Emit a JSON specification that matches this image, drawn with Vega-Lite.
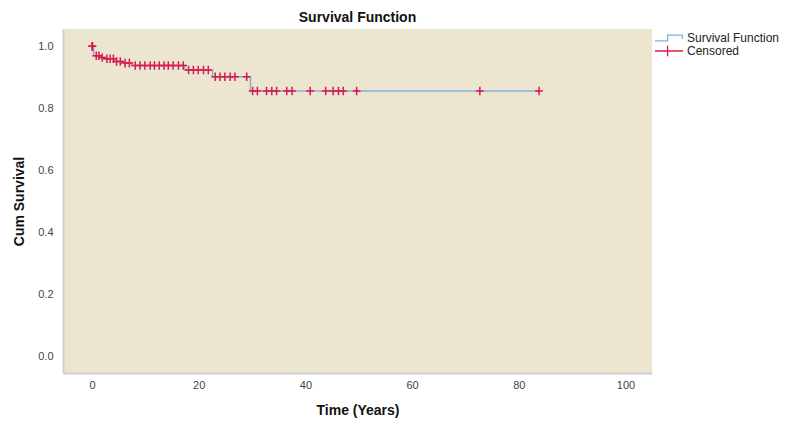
{
  "$schema": "https://vega.github.io/schema/vega-lite/v6.json",
  "width": 589,
  "height": 344,
  "autosize": "none",
  "padding": {"left": 63, "top": 29, "right": 145, "bottom": 64},
  "background": "white",
  "title": {"text": "Survival Function", "fontSize": 14, "fontWeight": "bold", "font": "Liberation Sans", "color": "#111", "anchor": "middle", "offset": -2},
  "config": {
    "view": {"fill": "#ECE5D0", "stroke": null},
    "axis": {"grid": false, "ticks": false, "labelFont": "Liberation Sans", "labelFontSize": 11, "labelColor": "#444", "titleFont": "Liberation Sans", "titleFontSize": 14, "titleFontWeight": "bold", "titleColor": "#111", "domainColor": "#D0D0D0", "domainWidth": 2}
  },
  "datasets": {
    "surv": [
      {"t": 0, "s": 1.0, "series": "Survival Function"},
      {"t": 0.3, "s": 0.970, "series": "Survival Function"},
      {"t": 1.6, "s": 0.964, "series": "Survival Function"},
      {"t": 2.3, "s": 0.960, "series": "Survival Function"},
      {"t": 4.2, "s": 0.951, "series": "Survival Function"},
      {"t": 5.8, "s": 0.946, "series": "Survival Function"},
      {"t": 7.5, "s": 0.938, "series": "Survival Function"},
      {"t": 17.4, "s": 0.924, "series": "Survival Function"},
      {"t": 22.6, "s": 0.902, "series": "Survival Function"},
      {"t": 29.7, "s": 0.856, "series": "Survival Function"},
      {"t": 84, "s": 0.856, "series": "Survival Function"}
    ],
    "cens": [
      {"t": 0, "s": 1.0, "c": "Censored"},
      {"t": 0.1, "s": 1.0, "c": "Censored"},
      {"t": 0.8, "s": 0.970, "c": "Censored"},
      {"t": 1.3, "s": 0.970, "c": "Censored"},
      {"t": 1.9, "s": 0.964, "c": "Censored"},
      {"t": 2.8, "s": 0.960, "c": "Censored"},
      {"t": 3.4, "s": 0.960, "c": "Censored"},
      {"t": 4.0, "s": 0.960, "c": "Censored"},
      {"t": 4.6, "s": 0.951, "c": "Censored"},
      {"t": 5.3, "s": 0.951, "c": "Censored"},
      {"t": 6.2, "s": 0.946, "c": "Censored"},
      {"t": 7.0, "s": 0.946, "c": "Censored"},
      {"t": 8.1, "s": 0.938, "c": "Censored"},
      {"t": 9.0, "s": 0.938, "c": "Censored"},
      {"t": 9.9, "s": 0.938, "c": "Censored"},
      {"t": 10.9, "s": 0.938, "c": "Censored"},
      {"t": 11.7, "s": 0.938, "c": "Censored"},
      {"t": 12.6, "s": 0.938, "c": "Censored"},
      {"t": 13.5, "s": 0.938, "c": "Censored"},
      {"t": 14.3, "s": 0.938, "c": "Censored"},
      {"t": 15.2, "s": 0.938, "c": "Censored"},
      {"t": 16.2, "s": 0.938, "c": "Censored"},
      {"t": 17.1, "s": 0.938, "c": "Censored"},
      {"t": 18.1, "s": 0.924, "c": "Censored"},
      {"t": 19.0, "s": 0.924, "c": "Censored"},
      {"t": 19.9, "s": 0.924, "c": "Censored"},
      {"t": 20.9, "s": 0.924, "c": "Censored"},
      {"t": 21.8, "s": 0.924, "c": "Censored"},
      {"t": 23.1, "s": 0.902, "c": "Censored"},
      {"t": 24.0, "s": 0.902, "c": "Censored"},
      {"t": 24.9, "s": 0.902, "c": "Censored"},
      {"t": 25.9, "s": 0.902, "c": "Censored"},
      {"t": 26.8, "s": 0.902, "c": "Censored"},
      {"t": 29.0, "s": 0.902, "c": "Censored"},
      {"t": 30.1, "s": 0.856, "c": "Censored"},
      {"t": 31.0, "s": 0.856, "c": "Censored"},
      {"t": 32.7, "s": 0.856, "c": "Censored"},
      {"t": 33.7, "s": 0.856, "c": "Censored"},
      {"t": 34.6, "s": 0.856, "c": "Censored"},
      {"t": 36.5, "s": 0.856, "c": "Censored"},
      {"t": 37.5, "s": 0.856, "c": "Censored"},
      {"t": 40.9, "s": 0.856, "c": "Censored"},
      {"t": 43.8, "s": 0.856, "c": "Censored"},
      {"t": 45.2, "s": 0.856, "c": "Censored"},
      {"t": 46.2, "s": 0.856, "c": "Censored"},
      {"t": 47.1, "s": 0.856, "c": "Censored"},
      {"t": 49.6, "s": 0.856, "c": "Censored"},
      {"t": 72.7, "s": 0.856, "c": "Censored"},
      {"t": 83.8, "s": 0.856, "c": "Censored"}
    ]
  },
  "encoding": {
    "x": {"field": "t", "type": "quantitative", "title": "Time (Years)",
      "scale": {"domain": [-5.44, 104.97], "nice": false, "zero": false},
      "axis": {"values": [0, 20, 40, 60, 80, 100], "labelPadding": 6, "titlePadding": 13}},
    "y": {"field": "s", "type": "quantitative", "title": "Cum Survival",
      "scale": {"domain": [-0.053, 1.056], "nice": false, "zero": false},
      "axis": {"values": [0, 0.2, 0.4, 0.6, 0.8, 1.0], "format": ".1f", "labelPadding": 10, "titlePadding": 11}}
  },
  "layer": [
    {
      "data": {"name": "surv"},
      "mark": {"type": "line", "interpolate": "step-after", "strokeWidth": 1.5},
      "encoding": {
        "color": {"field": "series", "type": "nominal",
          "scale": {"domain": ["Survival Function"], "range": ["#86AFD9"]},
          "legend": {"title": null, "orient": "none", "legendX": 591, "legendY": -6, "symbolType": "M-1,0.2H-0.1V-0.2H0.95V0.05", "symbolSize": 784, "symbolStrokeWidth": 1.3, "labelFont": "Liberation Sans", "labelFontSize": 12, "labelColor": "#222", "labelOffset": 3, "padding": 0}}
      }
    },
    {
      "data": {"name": "cens"},
      "mark": {"type": "point", "shape": "M-1,0H1M0,-1.1V1.1", "filled": false, "size": 60, "strokeWidth": 1.5, "opacity": 1},
      "encoding": {
        "stroke": {"field": "c", "type": "nominal",
          "scale": {"domain": ["Censored"], "range": ["#D81B4C"]},
          "legend": {"title": null, "orient": "none", "legendX": 591, "legendY": 7, "symbolType": "M-1,0H1M-0.1,-0.38V0.38", "symbolSize": 784, "symbolStrokeWidth": 1.3, "labelFont": "Liberation Sans", "labelFontSize": 12, "labelColor": "#222", "labelOffset": 3, "padding": 0}}
      }
    }
  ]
}
